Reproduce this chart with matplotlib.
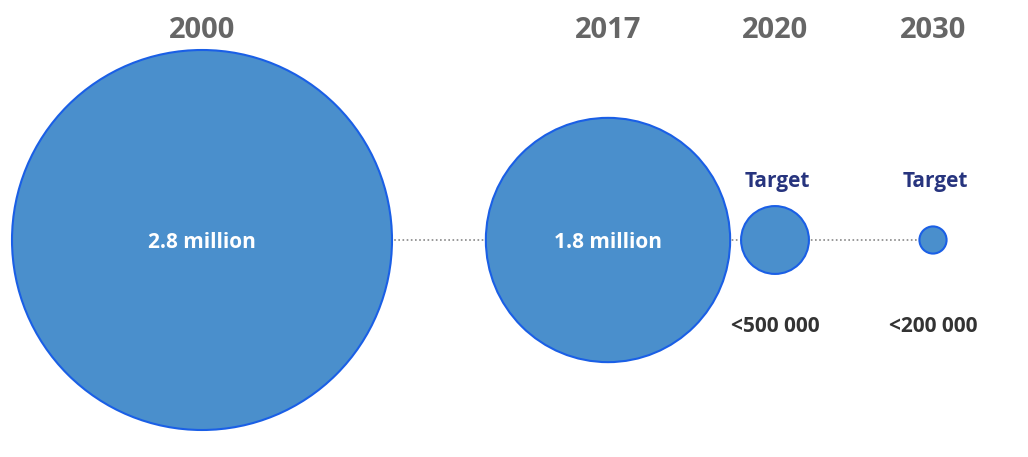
import matplotlib
matplotlib.use("Agg")
import matplotlib.pyplot as plt
from matplotlib.patches import Circle

years = ["2000", "2017", "2020", "2030"]
values = [2.8, 1.8, 0.5, 0.2]  # millions
inner_labels = ["2.8 million", "1.8 million", "", ""]
below_labels = ["", "", "<500 000", "<200 000"]
top_labels = ["", "", "Target", "Target"]
xpos = [202, 608, 775, 933]

fig = plt.figure(figsize=(10.28, 4.57), dpi=100)
ax = fig.add_axes([0, 0, 1, 1])
ax.set_xlim(0, 1028)
ax.set_ylim(457, 0)
ax.set_aspect("equal")
ax.axis("off")

cy = 240
scale = 190 / 2.8
ax.plot([390, 925], [cy, cy], ls=(0, (1, 1.5)), color="#888888", lw=1.2, zorder=1)
fam = ["Open Sans", "DejaVu Sans"]
for x, v, y, il, bl, tl in zip(xpos, values, years, inner_labels, below_labels, top_labels):
    r = v * scale
    ax.add_patch(Circle((x, cy), r, facecolor="#4a8fcc", edgecolor="#1a5fe6", lw=1.5, zorder=2))
    ax.text(x, 30, y, ha="center", va="center", fontsize=21, fontweight="bold", color="#666666", family=fam)
    if il:
        ax.text(x, cy + 2, il, ha="center", va="center", fontsize=15, fontweight="bold", color="white", family=fam, zorder=3)
    if tl:
        ax.text(x + 2, 181, tl, ha="center", va="center", fontsize=15, fontweight="bold", color="#27347e", family=fam)
    if bl:
        ax.text(x, 327, bl, ha="center", va="center", fontsize=15, fontweight="bold", color="#333333", family=fam)

fig.savefig("out.png", dpi=100)
